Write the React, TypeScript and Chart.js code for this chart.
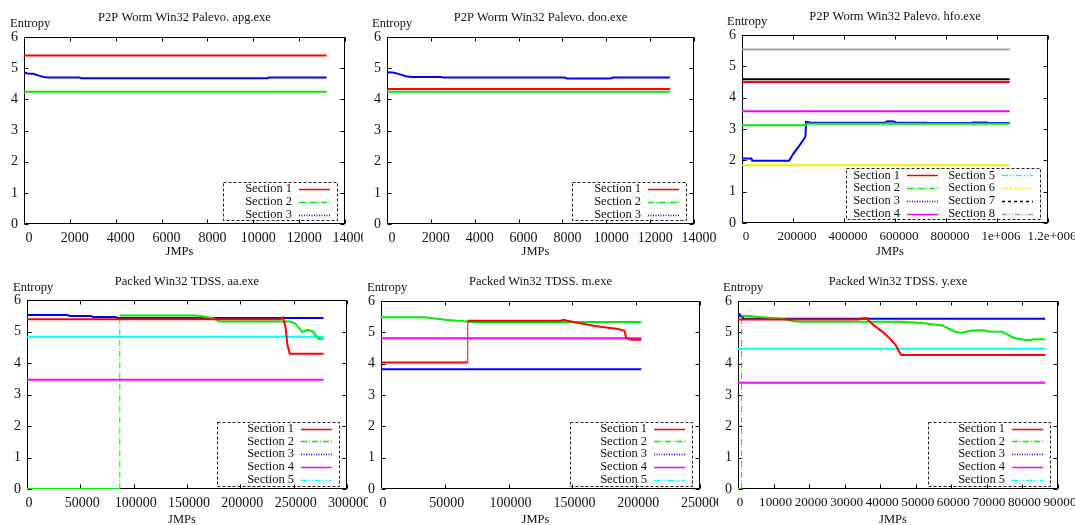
import React, { useEffect, useRef } from 'react';
import { Chart, registerables } from 'chart.js';

Chart.register(...registerables);

type Pt = [number, number];

// ---------- data: P2P Worm Win32 Palevo. apg.exe ----------
const apgSection1: Pt[] = [[0, 5.41], [13200, 5.41]];
const apgSection2: Pt[] = [[0, 4.24], [13200, 4.24]];
const apgSection3: Pt[] = [[0, 4.86], [150, 4.83], [400, 4.82], [650, 4.76], [850, 4.72], [1050, 4.7], [2400, 4.7], [2500, 4.68], [10600, 4.68], [10700, 4.7], [13200, 4.7]];

// ---------- data: P2P Worm Win32 Palevo. doo.exe ----------
const dooSection1: Pt[] = [[0, 4.33], [12900, 4.33]];
const dooSection2: Pt[] = [[0, 4.24], [12900, 4.24]];
const dooSection3: Pt[] = [[0, 4.87], [250, 4.86], [400, 4.84], [600, 4.8], [850, 4.74], [1100, 4.72], [2450, 4.72], [2550, 4.7], [8100, 4.7], [8200, 4.67], [10200, 4.67], [10300, 4.7], [12900, 4.7]];

// ---------- data: P2P Worm Win32 Palevo. hfo.exe ----------
const hfoSection1: Pt[] = [[0, 4.5], [1050000, 4.5]];
const hfoSection2: Pt[] = [[0, 3.12], [250000, 3.12], [255000, 3.17], [1050000, 3.17]];
const hfoSection3: Pt[] = [[0, 0.3], [0, 2.06], [37000, 2.06], [40000, 1.99], [185000, 1.99], [200000, 2.2], [225000, 2.47], [246000, 2.72], [249000, 2.78], [251000, 3.23], [262000, 3.22], [265000, 3.2], [560000, 3.2], [570000, 3.25], [595000, 3.24], [605000, 3.2], [720000, 3.2], [730000, 3.19], [900000, 3.19], [905000, 3.21], [960000, 3.21], [965000, 3.19], [1050000, 3.19]];
const hfoSection4: Pt[] = [[0, 3.57], [1050000, 3.57]];
const hfoSection5: Pt[] = [[0, 0], [3000, 0]];
const hfoSection6: Pt[] = [[0, 1.84], [1050000, 1.84]];
const hfoSection7: Pt[] = [[0, 4.59], [1050000, 4.59]];
const hfoSection8: Pt[] = [[0, 5.54], [1050000, 5.54]];

// ---------- data: Packed Win32 TDSS. aa.exe ----------
const aaSection1: Pt[] = [[0, 5.39], [238000, 5.39], [240000, 5.45], [242500, 5.12], [244000, 4.6], [246300, 4.29], [278000, 4.29]];
const aaSection2: Pt[] = [[0, 0], [87000, 0], [87000, 5.51], [159000, 5.51], [166000, 5.47], [175000, 5.42], [180000, 5.32], [247000, 5.32], [252000, 5.24], [258000, 4.98], [262800, 5.05], [267500, 5.01], [273800, 4.76], [278000, 4.78]];
const aaSection3: Pt[] = [[0, 5.52], [38000, 5.52], [40000, 5.49], [60000, 5.49], [62000, 5.46], [83000, 5.46], [85000, 5.43], [278000, 5.43]];
const aaSection4: Pt[] = [[0, 3.47], [278000, 3.47]];
const aaSection5: Pt[] = [[0, 4.83], [278000, 4.83]];

// ---------- data: Packed Win32 TDSS. m.exe ----------
const mSection1: Pt[] = [[0, 4.04], [68000, 4.04], [68000, 5.37], [141000, 5.37], [143000, 5.4], [146000, 5.37], [152000, 5.32], [167500, 5.2], [185700, 5.11], [190000, 5.06], [191000, 5.04], [192000, 4.83], [196000, 4.76], [204000, 4.76]];
const mSection2: Pt[] = [[0, 5.48], [34000, 5.48], [50000, 5.4], [67000, 5.35], [68500, 5.33], [204000, 5.33]];
const mSection3: Pt[] = [[0, 3.82], [204000, 3.82]];
const mSection4: Pt[] = [[0, 4.81], [204000, 4.81]];
const mSection5: Pt[] = [[0, 0], [1000, 0]];

// ---------- data: Packed Win32 TDSS. y.exe ----------
const ySection1: Pt[] = [[0, 5.41], [33900, 5.41], [35000, 5.45], [36500, 5.45], [36700, 5.37], [38600, 5.19], [40500, 5.03], [42400, 4.84], [44300, 4.6], [45300, 4.39], [45900, 4.28], [86400, 4.28]];
const ySection2: Pt[] = [[0, 0], [1000, 0], [1000, 5.53], [3000, 5.52], [6700, 5.48], [12400, 5.43], [15600, 5.35], [17000, 5.34], [45300, 5.34], [51800, 5.3], [57400, 5.22], [61200, 5.01], [63000, 4.99], [65800, 5.06], [69100, 5.07], [70500, 5.03], [74300, 5.02], [77600, 4.82], [81400, 4.75], [83700, 4.78], [86400, 4.78]];
const ySection3: Pt[] = [[0, 5.58], [500, 5.58], [600, 5.51], [1300, 5.51], [1400, 5.43], [86400, 5.43]];
const ySection4: Pt[] = [[0, 3.39], [86400, 3.39]];
const ySection5: Pt[] = [[0, 4.48], [86400, 4.48]];

// ---------- tick labels ----------
const palevoXTicks = ['0', '2000', '4000', '6000', '8000', '10000', '12000', '14000'];
const hfoXTicks = ['0', '200000', '400000', '600000', '800000', '1e+006', '1.2e+006'];
const aaXTicks = ['0', '50000', '100000', '150000', '200000', '250000', '300000'];
const mXTicks = ['0', '50000', '100000', '150000', '200000', '250000'];
const yXTicks = ['0', '10000', '20000', '30000', '40000', '50000', '60000', '70000', '80000', '90000'];
const entropyTicks = ['0', '1', '2', '3', '4', '5', '6'];
const sectionNames = ['Section 1', 'Section 2', 'Section 3', 'Section 4', 'Section 5', 'Section 6', 'Section 7', 'Section 8'];

// ---------- styles ----------
const FONT = "'Liberation Serif', 'Times New Roman', Times, serif";
const TEXT = '#111111';
const SECTION_STYLE = [
  { color: '#ff0000', dash: [] as number[] },
  { color: '#00ee00', dash: [6, 2, 1, 2] },
  { color: '#0000ff', dash: [1, 1.5] },
  { color: '#ff00ff', dash: [] as number[] },
  { color: '#00ffff', dash: [6, 2, 1, 2, 1, 2] },
  { color: '#eeee00', dash: [2, 2] },
  { color: '#000000', dash: [3, 3] },
  { color: '#a0a0a0', dash: [5, 2, 1, 2, 1, 2] },
];

interface PanelCfg {
  title: string;
  clip: { x: number; y: number; w: number; h: number };
  plot: { l: number; t: number; r: number; b: number };
  xMax: number;
  xStep: number;
  xTicks: string[];
  xShift: number;
  tickSize: number;
  series: Pt[][];
  legendWidth: number;
  legendCols: number;
  titleY: number;
  entropy: { x: number; y: number };
  jmpsY: number;
}

const PANELS: PanelCfg[] = [
  {
    title: 'P2P Worm Win32 Palevo. apg.exe',
    clip: { x: 0, y: 0, w: 363, h: 262 }, plot: { l: 24, t: 37, r: 345, b: 224 },
    xMax: 14000, xStep: 2000, xTicks: palevoXTicks, xShift: 5, tickSize: 14,
    series: [apgSection1, apgSection2, apgSection3],
    legendWidth: 114, legendCols: 1, titleY: 18, entropy: { x: 10, y: 24 }, jmpsY: 252,
  },
  {
    title: 'P2P Worm Win32 Palevo. doo.exe',
    clip: { x: 363, y: 0, w: 353, h: 262 }, plot: { l: 387, t: 37, r: 694, b: 224 },
    xMax: 14000, xStep: 2000, xTicks: palevoXTicks, xShift: 5, tickSize: 14,
    series: [dooSection1, dooSection2, dooSection3],
    legendWidth: 114, legendCols: 1, titleY: 18, entropy: { x: 372, y: 24 }, jmpsY: 252,
  },
  {
    title: 'P2P Worm Win32 Palevo. hfo.exe',
    clip: { x: 716, y: 0, w: 359, h: 262 }, plot: { l: 742, t: 35, r: 1048, b: 223 },
    xMax: 1200000, xStep: 200000, xTicks: hfoXTicks, xShift: 4, tickSize: 13,
    series: [hfoSection1, hfoSection2, hfoSection3, hfoSection4, hfoSection5, hfoSection6, hfoSection7, hfoSection8],
    legendWidth: 194, legendCols: 2, titleY: 17, entropy: { x: 727, y: 22 }, jmpsY: 252,
  },
  {
    title: 'Packed Win32 TDSS. aa.exe',
    clip: { x: 0, y: 262, w: 368, h: 263 }, plot: { l: 27, t: 300, r: 347, b: 489 },
    xMax: 300000, xStep: 50000, xTicks: aaXTicks, xShift: 2, tickSize: 14,
    series: [aaSection1, aaSection2, aaSection3, aaSection4, aaSection5],
    legendWidth: 122, legendCols: 1, titleY: 282, entropy: { x: 13, y: 288 }, jmpsY: 520,
  },
  {
    title: 'Packed Win32 TDSS. m.exe',
    clip: { x: 368, y: 262, w: 350, h: 263 }, plot: { l: 381, t: 301, r: 700, b: 489 },
    xMax: 250000, xStep: 50000, xTicks: mXTicks, xShift: 2, tickSize: 14,
    series: [mSection1, mSection2, mSection3, mSection4, mSection5],
    legendWidth: 122, legendCols: 1, titleY: 282, entropy: { x: 367, y: 288 }, jmpsY: 520,
  },
  {
    title: 'Packed Win32 TDSS. y.exe',
    clip: { x: 718, y: 262, w: 357, h: 263 }, plot: { l: 738, t: 301, r: 1058, b: 489 },
    xMax: 90000, xStep: 10000, xTicks: yXTicks, xShift: 2, tickSize: 13.2,
    series: [ySection1, ySection2, ySection3, ySection4, ySection5],
    legendWidth: 122, legendCols: 1, titleY: 282, entropy: { x: 723, y: 288 }, jmpsY: 520,
  },
];

const EXTRA_W = 60;

function makeDecorPlugin(cfg: PanelCfg) {
  const ox = cfg.clip.x;
  const oy = cfg.clip.y;
  return {
    id: 'gnuplotDecor',
    beforeDatasetsDraw(chart: any) {
      const { ctx, chartArea } = chart;
      const xs = chart.scales.x;
      const ys = chart.scales.y;
      ctx.save();
      ctx.strokeStyle = '#000';
      ctx.lineWidth = 1;
      ctx.setLineDash([]);
      const L = Math.round(chartArea.left) + 0.5;
      const R = Math.round(chartArea.right) - 0.5;
      const T = Math.round(chartArea.top) + 0.5;
      const B = Math.round(chartArea.bottom) - 0.5;
      ctx.strokeRect(L, T, R - L, B - T);
      const tl = 4;
      ctx.beginPath();
      xs.ticks.forEach((t: any) => {
        const px = Math.round(xs.getPixelForValue(t.value)) + 0.5;
        ctx.moveTo(px, B); ctx.lineTo(px, B - tl);
        ctx.moveTo(px, T); ctx.lineTo(px, T + tl);
      });
      ys.ticks.forEach((t: any) => {
        const py = Math.round(ys.getPixelForValue(t.value)) + 0.5;
        ctx.moveTo(L, py); ctx.lineTo(L + tl, py);
        ctx.moveTo(R, py); ctx.lineTo(R - tl, py);
      });
      ctx.stroke();
      ctx.restore();
    },
    afterDraw(chart: any) {
      const { ctx } = chart;
      ctx.save();
      ctx.fillStyle = TEXT;
      ctx.font = `12.5px ${FONT}`;
      ctx.textBaseline = 'middle';
      const cx = (cfg.plot.l + cfg.plot.r) / 2 - ox;
      ctx.textAlign = 'center';
      ctx.fillText(cfg.title, cx, cfg.titleY - oy);
      ctx.fillText('JMPs', cx - 5, cfg.jmpsY - oy);
      ctx.textAlign = 'left';
      ctx.fillText('Entropy', cfg.entropy.x - ox, cfg.entropy.y - oy);

      // legend
      const n = cfg.series.length;
      const cols = cfg.legendCols;
      const rows = Math.ceil(n / cols);
      const rowH = 12.8;
      const right = cfg.plot.r - 8 - ox;
      const bottom = cfg.plot.b - 3.5 - oy;
      const top = bottom - rows * rowH;
      const left = right - cfg.legendWidth;
      ctx.strokeStyle = '#222';
      ctx.lineWidth = 1;
      ctx.setLineDash([3, 2]);
      ctx.strokeRect(Math.round(left) + 0.5, Math.round(top) + 0.5, Math.round(right - left), Math.round(bottom - top));
      for (let i = 0; i < n; i++) {
        const col = Math.floor(i / rows);
        const row = i % rows;
        const off = (cols - 1 - col) * 95;
        const y = top + 7 + row * rowH;
        ctx.textAlign = 'right';
        ctx.fillStyle = TEXT;
        ctx.fillText(sectionNames[i], right - 45 - off, y);
        const st = SECTION_STYLE[i];
        ctx.strokeStyle = st.color;
        ctx.lineWidth = 1.5;
        ctx.setLineDash(st.dash);
        ctx.beginPath();
        ctx.moveTo(right - 38 - off, Math.round(y) + 0.5);
        ctx.lineTo(right - 7 - off, Math.round(y) + 0.5);
        ctx.stroke();
      }
      ctx.restore();
    },
  };
}

function buildConfig(cfg: PanelCfg): any {
  const canvasW = cfg.clip.w + EXTRA_W;
  const datasets = cfg.series.map((pts, i) => {
    const st = SECTION_STYLE[i];
    const isVertical = (c: any) => pts[c.p0DataIndex] && pts[c.p1DataIndex] && pts[c.p0DataIndex][0] === pts[c.p1DataIndex][0];
    return {
      label: sectionNames[i],
      data: pts.map(([x, y]) => ({ x, y })),
      borderColor: st.color,
      borderWidth: 2,
      pointRadius: 0,
      pointHoverRadius: 0,
      fill: false,
      tension: 0,
      segment: {
        borderWidth: (c: any) => (isVertical(c) ? 1 : undefined),
        borderDash: (c: any) => (isVertical(c) ? st.dash : undefined),
      },
    };
  });
  const tickFont = { family: FONT, size: cfg.tickSize };
  return {
    type: 'line',
    data: { datasets },
    options: {
      animation: false,
      responsive: false,
      maintainAspectRatio: false,
      events: [],
      layout: {
        padding: { left: 0, top: cfg.plot.t - cfg.clip.y, right: canvasW - (cfg.plot.r - cfg.clip.x), bottom: 0 },
      },
      plugins: { legend: { display: false }, tooltip: { enabled: false }, title: { display: false } },
      scales: {
        x: {
          type: 'linear',
          min: 0,
          max: cfg.xMax,
          grid: { display: false, drawTicks: false },
          border: { display: false },
          ticks: {
            stepSize: cfg.xStep,
            autoSkip: false,
            maxRotation: 0,
            minRotation: 0,
            padding: 6,
            labelOffset: cfg.xShift,
            color: TEXT,
            font: tickFont,
            callback: (v: number) => cfg.xTicks[Math.round(v / cfg.xStep)] ?? '',
          },
          afterFit: (s: any) => { s.height = cfg.clip.y + cfg.clip.h - cfg.plot.b; },
        },
        y: {
          type: 'linear',
          min: 0,
          max: 6,
          grid: { display: false, drawTicks: false },
          border: { display: false },
          ticks: {
            stepSize: 1,
            padding: 6,
            color: TEXT,
            font: { family: FONT, size: 14 },
            callback: (v: number) => entropyTicks[Math.round(v)] ?? '',
          },
          afterFit: (s: any) => { s.width = cfg.plot.l - cfg.clip.x; },
        },
      },
    },
    plugins: [makeDecorPlugin(cfg)],
  };
}

function Panel({ cfg }: { cfg: PanelCfg }) {
  const ref = useRef<HTMLCanvasElement>(null);
  useEffect(() => {
    if (!ref.current) return;
    const chart = new Chart(ref.current, buildConfig(cfg));
    return () => chart.destroy();
  }, [cfg]);
  return (
    <div style={{ position: 'absolute', left: cfg.clip.x, top: cfg.clip.y, width: cfg.clip.w, height: cfg.clip.h, overflow: 'hidden' }}>
      <canvas
        ref={ref}
        width={cfg.clip.w + EXTRA_W}
        height={cfg.clip.h}
        style={{ display: 'block', width: cfg.clip.w + EXTRA_W, height: cfg.clip.h }}
      />
    </div>
  );
}

export default function App() {
  return (
    <div style={{ position: 'absolute', left: 0, top: 0, width: 1075, height: 525, overflow: 'hidden', background: '#ffffff' }}>
      {PANELS.map((p) => (
        <Panel key={p.title} cfg={p} />
      ))}
    </div>
  );
}
